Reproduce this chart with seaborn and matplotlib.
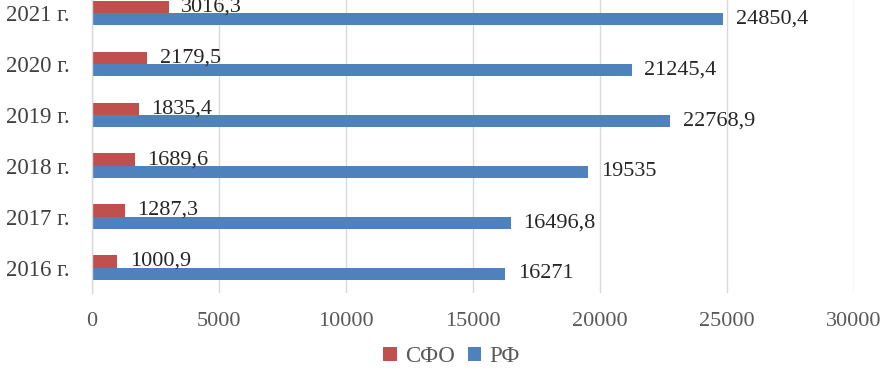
import matplotlib
matplotlib.use("Agg")
import matplotlib.pyplot as plt
import seaborn as sns
import pandas as pd

years = ["2021 г.", "2020 г.", "2019 г.", "2018 г.", "2017 г.", "2016 г."]
sfo = [3016.3, 2179.5, 1835.4, 1689.6, 1287.3, 1000.9]
rf = [24850.4, 21245.4, 22768.9, 19535, 16496.8, 16271]
series = ["СФО", "РФ"]
colors = ["#C0504D", "#4F81BD"]
xticks = [0, 5000, 10000, 15000, 20000, 25000, 30000]

df = pd.DataFrame({
    "year": years * 2,
    "value": sfo + rf,
    "series": [series[0]] * len(years) + [series[1]] * len(years),
})

sns.set_theme(style="white")
plt.rcParams["font.family"] = ["Liberation Serif", "DejaVu Serif"]

fig = plt.figure(figsize=(8.82, 3.74), dpi=100)
ax = fig.add_axes([0.1043, 0.2166, 0.8639, 0.8168])

sns.barplot(data=df, y="year", x="value", hue="series", order=years,
            hue_order=series, palette=colors, orient="h", width=0.48,
            dodge=True, ax=ax, saturation=1, legend=True, linewidth=0)

def fmt(v):
    s = f"{v:.1f}".rstrip("0").rstrip(".")
    return s.replace(".", ",")

for cont in ax.containers:
    labels = [fmt(b.get_width()) for b in cont]
    ax.bar_label(cont, labels=labels, padding=9, fontsize=16, color="#262626")

ax.set_xlim(0, 30000)
ax.set_xticks(xticks)
ax.set_xlabel("")
ax.set_ylabel("")
ax.grid(axis="x", color="#D9D9D9", linewidth=1)
ax.set_axisbelow(True)
for s in ["top", "right", "bottom"]:
    ax.spines[s].set_visible(False)
ax.spines["left"].set_color("#D9D9D9")
ax.spines["left"].set_linewidth(1)
ax.tick_params(axis="x", length=0, pad=14, labelsize=16, labelcolor="#595959")
ax.tick_params(axis="y", length=0, pad=16, labelsize=16.5, labelcolor="#404040")

leg = ax.legend(loc="center", bbox_to_anchor=(0.512, 0.046),
                bbox_transform=fig.transFigure, ncol=2, frameon=False,
                fontsize=16.5, handlelength=0.6, handleheight=0.6,
                handletextpad=0.35, columnspacing=0.55)
for t in leg.get_texts():
    t.set_color("#595959")

fig.savefig("out.png", dpi=100)
